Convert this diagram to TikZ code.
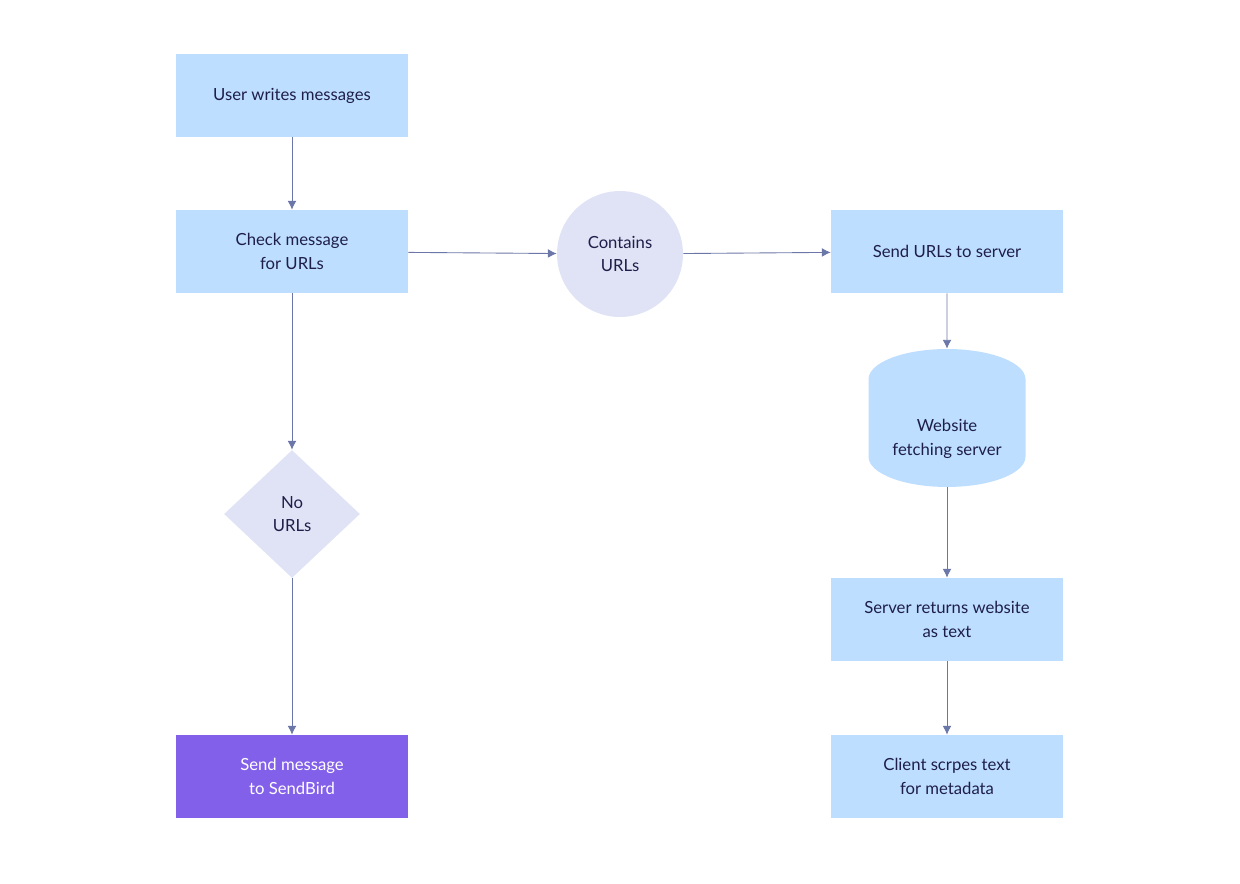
\documentclass[tikz,border=0pt]{standalone}
\usepackage{fontspec}
\setmainfont{Lato}
\usetikzlibrary{shapes.geometric,arrows.meta}
\definecolor{boxblue}{HTML}{BDDEFF}
\definecolor{lilac}{HTML}{E0E3F5}
\definecolor{sendpurple}{HTML}{8360EA}
\definecolor{linkgray}{HTML}{6B77A8}
\definecolor{inkdark}{HTML}{1E1E4A}
\tikzset{
  flowstep/.style={fill=boxblue, minimum width=4.64cm, minimum height=1.66cm, align=center, text=inkdark, font=\fontsize{9.5}{13.5}\selectfont},
  link/.style={draw=linkgray, line width=0.5pt, -{Latex[length=5pt,width=5pt]}}
}
\begin{document}
\begin{tikzpicture}[x=0.02cm,y=-0.02cm]
\useasboundingbox (0,0) rectangle (1240,883);
\node[flowstep] (1) at (292,95.5) {User writes messages};
\node[flowstep] (2) at (292,251.5) {Check message\\for URLs};
\node[circle, fill=lilac, minimum size=2.52cm, align=center, text=inkdark, font=\fontsize{9.5}{13.5}\selectfont] (3) at (620,254) {Contains\\URLs};
\node[flowstep] (4) at (947,251.5) {Send URLs to server};
\node[cylinder, shape border rotate=90, aspect=0.5, fill=boxblue, minimum width=3.14cm, minimum height=2.76cm, align=center, text=inkdark, font=\fontsize{9.5}{13.5}\selectfont] (5) at (947,439) {Website\\fetching server};
\node[flowstep] (6) at (947,619.5) {Server returns website\\as text};
\node[flowstep] (7) at (947,776.5) {Client scrpes text\\for metadata};
\node[diamond, fill=lilac, minimum width=2.72cm, minimum height=2.56cm, inner sep=0pt, align=center, text=inkdark, font=\fontsize{9.5}{13.5}\selectfont] (8) at (292,514) {No\\URLs};
\node[flowstep, fill=sendpurple, text=white] (9) at (292,776.5) {Send message\\to SendBird};
\draw[link] (1) -- (2);
\draw[link] (2) -- (3);
\draw[link] (3) -- (4);
\draw[link] (4) -- (5);
\draw[link] (5) -- (6);
\draw[link] (6) -- (7);
\draw[link] (2) -- (8);
\draw[link] (8) -- (9);
\end{tikzpicture}
\end{document}
